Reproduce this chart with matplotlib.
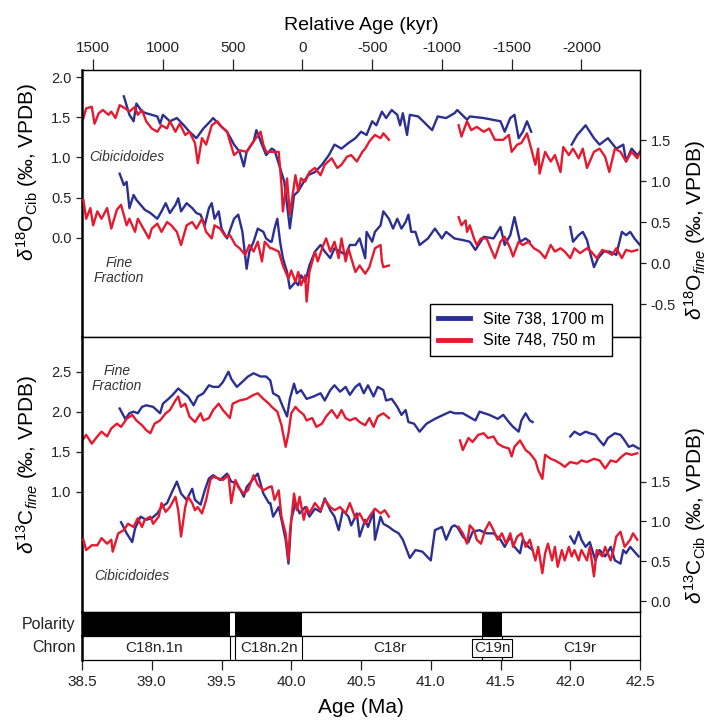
import numpy as np
import matplotlib
matplotlib.use("Agg")
import matplotlib.pyplot as plt
from matplotlib.lines import Line2D

plt.rcParams['font.family'] = ['Liberation Sans', 'DejaVu Sans']
plt.rcParams['mathtext.fontset'] = 'custom'
plt.rcParams['mathtext.rm'] = 'Liberation Sans'
plt.rcParams['mathtext.it'] = 'Liberation Sans:italic'
plt.rcParams['axes.unicode_minus'] = False

nan = np.nan
BLUE = '#2b2f93'
RED = '#e6192e'

# ---------------- data (Age, Ma) ----------------
# d18O Cibicidoides (left axis, upper panel)
o_cib_748_age = [38.51,38.53,38.57,38.59,38.62,38.65,38.69,38.71,38.74,38.77,38.81,38.84,38.88,38.90,38.93,38.96,39.00,39.04,39.07,39.11,39.13,39.17,39.20,39.24,39.27,39.31,39.33,39.36,39.39,39.43,39.47,39.50,39.54,39.56,39.59,39.63,39.68,39.73,39.78,39.80,39.82,
                 39.86,39.91,39.93,39.94,39.97,39.99,40.03,40.05,40.07,40.10,40.13,40.17,40.21,40.24,40.29,40.33,40.36,40.40,40.43,40.47,40.51,40.53,40.56,40.60,40.64,40.66,40.70,
                 40.95,
                 41.20,41.22,41.26,41.29,41.33,41.38,41.42,41.46,41.52,41.56,41.58,41.62,41.65,41.69,41.72,41.75,41.77,41.78,41.82,41.86,41.89,41.93,41.95,41.99,42.02,42.06,42.09,42.12,42.17,42.21,42.25,42.28,42.32,42.36,42.40,42.44,42.48,42.50]
o_cib_748_val = [1.49,1.61,1.63,1.42,1.55,1.59,1.53,1.57,1.49,1.65,1.61,1.57,1.63,1.53,1.59,1.45,1.36,1.32,1.40,1.36,1.45,1.32,1.42,1.28,1.32,1.18,0.93,1.24,1.16,1.40,1.45,1.38,1.32,1.20,1.03,1.09,1.07,1.20,1.32,1.16,1.07,
                 1.07,1.07,0.66,0.33,0.74,0.29,0.78,0.58,0.74,0.70,0.82,0.87,0.78,0.91,0.99,0.87,0.91,1.01,1.03,0.95,1.07,1.11,1.20,1.28,1.24,1.30,1.22,
                 nan,
                 1.40,1.26,1.45,1.34,1.38,1.32,1.36,1.22,1.22,1.28,1.07,1.16,1.18,1.30,1.11,0.91,1.11,0.80,1.07,0.95,1.03,0.82,1.13,1.03,1.11,0.99,1.11,0.87,1.07,1.11,1.01,0.82,1.11,1.07,0.95,1.07,0.99,1.07]
o_cib_738_age = [38.80,38.84,38.87,38.89,38.93,38.96,39.04,39.06,39.08,39.13,39.18,39.23,39.27,39.32,39.37,39.42,39.44,39.49,39.54,39.59,39.63,39.66,39.68,39.73,39.75,39.79,39.82,
                 39.86,39.88,39.92,39.95,39.99,40.02,40.05,40.09,40.12,40.17,40.22,40.27,40.31,40.36,40.41,40.46,40.50,40.54,40.58,40.61,40.65,40.68,40.72,40.76,40.78,40.80,40.83,40.85,40.91,41.01,41.05,41.11,41.17,
                 41.19,41.26,41.28,41.38,41.50,41.53,41.57,41.60,41.63,41.66,41.69,41.72,
                 41.86,
                 42.01,42.05,42.11,42.17,42.21,42.27,42.33,42.38,42.40,42.44,42.48,42.50]
o_cib_738_val = [1.76,1.53,1.45,1.67,1.57,1.55,1.51,1.42,1.53,1.45,1.49,1.40,1.32,1.24,1.36,1.45,1.49,1.40,1.32,1.16,1.07,0.89,1.07,1.20,1.34,1.16,1.03,
                 1.11,1.09,0.87,0.70,0.12,0.53,0.58,0.70,0.78,0.82,0.91,1.03,1.16,1.11,1.18,1.24,1.32,1.28,1.45,1.40,1.57,1.49,1.59,1.53,1.40,1.55,1.28,1.53,1.51,1.34,1.51,1.49,1.55,
                 1.59,1.47,1.51,1.49,1.45,1.32,1.49,1.53,1.24,1.32,1.45,1.32,
                 nan,
                 1.16,1.28,1.40,1.24,1.16,1.24,1.11,1.16,0.95,1.11,1.03,1.07]

# d18O fine fraction (right axis, upper panel)
o_fine_748_age = [38.51,38.53,38.56,38.58,38.61,38.64,38.68,38.71,38.75,38.78,38.82,38.84,38.88,38.90,38.94,38.98,39.00,39.04,39.07,39.11,39.14,39.18,39.21,39.25,39.29,39.32,39.36,39.39,39.43,39.45,39.49,39.53,39.56,39.60,39.63,39.67,39.70,39.73,39.76,39.79,39.81,39.85,
                  39.86,39.91,39.94,39.98,40.00,40.03,40.05,40.07,40.10,40.11,40.13,40.17,40.19,40.23,40.25,40.28,40.31,40.34,40.36,40.39,40.41,40.43,40.46,40.49,40.53,40.56,40.60,40.64,40.65,40.66,40.70,
                  40.95,
                  41.20,41.22,41.25,41.26,41.28,41.31,41.33,41.36,41.40,41.44,41.46,41.50,41.53,41.57,41.59,41.63,41.66,41.70,41.74,41.78,41.82,41.86,41.89,41.93,41.96,42.00,42.03,42.07,42.12,42.15,42.19,42.23,42.26,42.30,42.33,42.37,42.40,42.44,42.48]
o_fine_748_val = [0.77,0.54,0.67,0.46,0.63,0.54,0.67,0.42,0.65,0.71,0.46,0.54,0.38,0.54,0.42,0.30,0.42,0.48,0.38,0.50,0.46,0.38,0.22,0.46,0.50,0.42,0.54,0.38,0.30,0.46,0.42,0.32,0.34,0.22,0.18,0.10,0.22,0.14,0.26,0.02,0.26,0.18,
                  0.18,0.14,-0.03,-0.19,-0.09,-0.23,-0.11,-0.27,-0.15,-0.47,-0.11,0.14,0.02,0.22,0.30,0.14,0.26,0.06,0.30,0.02,0.18,0.06,-0.11,-0.03,-0.13,-0.05,0.18,0.22,0.02,-0.05,-0.03,
                  nan,
                  0.56,0.46,0.52,0.38,0.46,0.30,0.22,0.30,0.30,0.14,0.06,0.26,0.32,0.18,0.08,0.26,0.22,0.26,0.18,0.14,0.06,0.22,0.14,0.18,0.14,0.06,0.18,0.12,0.18,0.14,0.06,0.16,0.14,0.10,0.18,0.06,0.16,0.14,0.16]
o_fine_738_age = [38.77,38.80,38.82,38.84,38.87,38.89,38.92,38.95,38.99,39.04,39.07,39.10,39.13,39.17,39.19,39.21,39.25,39.29,39.32,39.35,39.38,39.41,39.43,39.45,39.48,39.50,39.54,39.59,39.62,39.65,39.68,39.70,39.73,39.76,39.80,39.82,39.85,
                  39.86,39.88,39.90,39.92,39.94,39.97,39.99,40.03,40.05,40.07,40.10,40.13,40.17,40.21,40.24,40.28,40.31,40.35,40.39,40.42,40.46,40.49,40.53,40.54,40.58,40.60,40.64,40.66,40.70,40.73,40.76,40.79,40.82,40.84,40.86,40.89,40.92,40.98,41.03,41.08,41.11,41.17,
                  41.23,41.28,41.32,41.38,41.45,41.50,41.53,41.57,41.60,41.64,41.68,41.71,
                  41.86,
                  42.00,42.02,42.06,42.09,42.12,42.14,42.17,42.20,42.24,42.28,42.33,42.37,42.40,42.43,42.46,42.50]
o_fine_738_val = [1.09,0.95,0.99,0.67,0.83,0.77,0.71,0.65,0.61,0.54,0.63,0.73,0.61,0.71,0.79,0.63,0.73,0.67,0.61,0.59,0.46,0.67,0.73,0.54,0.63,0.42,0.30,0.54,0.59,0.38,-0.07,0.14,0.26,0.42,0.38,0.30,0.26,
                  0.26,0.42,0.54,0.26,0.06,-0.11,-0.31,-0.23,-0.27,-0.15,-0.23,-0.03,0.14,0.22,0.14,0.06,0.18,0.14,0.10,0.22,0.22,0.30,0.06,0.38,0.26,0.38,0.46,0.63,0.54,0.42,0.54,0.42,0.50,0.59,0.38,0.38,0.22,0.30,0.42,0.30,0.38,0.30,
                  0.28,0.26,0.16,0.32,0.30,0.44,0.22,0.34,0.56,0.26,0.30,0.26,
                  nan,
                  0.44,0.26,0.34,0.38,0.28,0.14,-0.05,0.06,0.14,0.14,0.10,0.38,0.34,0.38,0.30,0.22]

# d13C fine fraction (left axis, lower panel)
c_fine_748_age = [38.51,38.53,38.57,38.61,38.64,38.68,38.71,38.75,38.78,38.82,38.86,38.89,38.93,38.96,38.99,39.02,39.06,39.10,39.13,39.17,39.19,39.21,39.24,39.27,39.31,39.35,39.37,39.41,39.44,39.48,39.51,39.56,39.58,39.63,39.68,39.73,39.76,39.80,39.84,
                  39.86,39.90,39.93,39.96,39.98,40.00,40.03,40.05,40.09,40.11,40.15,40.18,40.22,40.25,40.29,40.33,40.36,40.39,40.42,40.46,40.49,40.53,40.56,40.59,40.62,40.66,40.70,
                  40.95,
                  41.21,41.23,41.27,41.30,41.34,41.38,41.41,41.45,41.48,41.52,41.56,41.58,41.60,41.64,41.68,41.71,41.75,41.77,41.80,41.82,41.86,41.89,41.93,41.96,42.00,42.05,42.08,42.12,42.17,42.21,42.25,42.29,42.33,42.37,42.40,42.44,42.48]
c_fine_748_val = [1.66,1.71,1.60,1.69,1.75,1.69,1.79,1.85,1.81,1.91,1.96,1.89,1.83,1.77,1.73,1.85,1.89,1.98,2.02,2.14,2.19,2.06,2.10,1.94,1.87,1.98,1.89,1.92,2.02,2.10,2.02,1.92,2.10,2.14,2.16,2.21,2.23,2.16,2.10,
                  2.06,2.00,1.83,1.56,1.73,1.98,2.06,2.02,1.96,1.89,1.92,1.81,1.85,1.94,2.02,1.92,2.02,1.92,1.89,1.92,1.87,1.83,1.92,1.81,1.94,1.98,1.92,
                  nan,
                  1.64,1.52,1.67,1.62,1.71,1.73,1.67,1.69,1.60,1.56,1.54,1.44,1.56,1.64,1.52,1.48,1.39,1.27,1.16,1.46,1.41,1.39,1.35,1.31,1.37,1.35,1.39,1.37,1.41,1.39,1.29,1.39,1.37,1.44,1.48,1.46,1.48]
c_fine_738_age = [38.77,38.81,38.84,38.87,38.90,38.93,38.96,39.01,39.06,39.08,39.12,39.15,39.19,39.23,39.26,39.30,39.33,39.37,39.41,39.44,39.48,39.51,39.55,39.57,39.61,39.66,39.69,39.73,39.78,39.82,
                  39.85,39.87,39.91,39.94,39.97,39.99,40.02,40.04,40.07,40.11,40.16,40.21,40.24,40.28,40.31,40.35,40.39,40.42,40.46,40.49,40.52,40.55,40.59,40.62,40.66,40.68,40.72,40.76,40.79,40.82,40.84,40.88,40.92,40.97,41.03,41.09,41.14,41.17,
                  41.23,41.32,41.35,41.42,41.48,41.52,41.56,41.59,41.63,41.65,41.68,41.71,41.73,
                  41.86,
                  42.00,42.03,42.07,42.11,42.14,42.18,42.21,42.24,42.27,42.32,42.36,42.39,42.42,42.45,42.49]
c_fine_738_val = [2.04,1.91,1.98,2.00,1.98,2.06,2.08,2.06,1.98,2.10,2.16,2.21,2.29,2.23,2.19,2.08,2.19,2.23,2.33,2.31,2.31,2.37,2.50,2.41,2.31,2.39,2.44,2.48,2.44,2.44,
                  2.39,2.23,2.19,2.06,1.94,2.16,2.35,2.23,2.27,2.16,2.19,2.23,2.14,2.27,2.33,2.25,2.31,2.21,2.31,2.35,2.23,2.33,2.19,2.31,2.27,2.14,2.16,2.06,1.96,2.02,1.87,1.85,1.75,1.85,1.91,1.96,2.00,1.98,
                  1.98,1.89,2.00,1.96,1.91,1.96,1.87,1.81,1.75,1.89,1.98,1.89,1.87,
                  nan,
                  1.69,1.75,1.71,1.75,1.73,1.71,1.64,1.58,1.67,1.73,1.71,1.64,1.56,1.58,1.54]

# d13C Cibicidoides (right axis, lower panel)
c_cib_748_age = [38.51,38.53,38.57,38.61,38.64,38.68,38.71,38.72,38.76,38.80,38.83,38.87,38.90,38.93,38.95,38.99,39.01,39.05,39.07,39.10,39.13,39.17,39.19,39.21,39.24,39.26,39.29,39.31,39.33,39.36,39.39,39.42,39.44,39.48,39.51,39.55,39.57,39.60,39.62,39.66,39.69,39.73,39.76,39.80,39.84,
                 39.86,39.88,39.91,39.93,39.96,39.98,39.99,40.02,40.04,40.06,40.09,40.11,40.13,40.17,40.21,40.24,40.28,40.31,40.35,40.39,40.42,40.46,40.49,40.53,40.56,40.60,40.64,40.67,40.70,
                 40.95,
                 41.20,41.23,41.26,41.28,41.31,41.33,41.36,41.39,41.42,41.45,41.48,41.51,41.54,41.57,41.59,41.62,41.65,41.68,41.71,41.75,41.77,41.80,41.82,41.84,41.87,41.89,41.91,41.94,41.96,41.99,42.01,42.03,42.06,42.08,42.12,42.14,42.17,42.19,42.23,42.25,42.29,42.31,42.33,42.36,42.39,42.43,42.45,42.48]
c_cib_748_val = [0.77,0.64,0.70,0.70,0.79,0.72,0.77,0.62,0.85,0.89,0.97,0.93,1.04,0.93,1.02,1.06,0.97,1.06,1.23,1.12,1.18,1.31,1.14,0.81,1.18,1.31,1.23,1.14,1.18,1.10,1.27,1.52,1.56,1.54,1.52,1.58,1.23,1.52,1.43,1.35,1.39,1.58,1.46,1.39,1.43,
                 1.44,1.27,1.39,1.06,0.85,0.51,0.85,1.35,1.14,1.31,1.02,1.18,1.10,1.23,1.14,1.27,1.18,1.14,1.18,1.10,1.23,1.04,1.10,0.97,1.06,1.16,1.10,1.14,1.06,
                 nan,
                 0.93,0.85,0.72,0.95,0.89,0.77,0.72,0.89,0.99,0.89,0.77,0.85,0.72,0.85,0.68,0.81,0.85,0.68,0.77,0.51,0.68,0.35,0.60,0.72,0.51,0.68,0.43,0.64,0.51,0.68,0.56,0.64,0.51,0.64,0.51,0.68,0.31,0.64,0.56,0.68,0.51,0.64,0.81,0.87,0.68,0.77,0.85,0.77]
c_cib_738_age = [38.78,38.82,38.86,38.88,38.92,38.96,39.00,39.04,39.07,39.11,39.14,39.18,39.21,39.25,39.29,39.31,39.35,39.38,39.41,39.44,39.49,39.54,39.57,39.61,39.66,39.68,39.73,39.76,39.80,39.84,
                 39.85,39.87,39.91,39.93,39.96,39.98,40.00,40.03,40.06,40.10,40.13,40.17,40.21,40.24,40.28,40.31,40.34,40.37,40.41,40.43,40.47,40.49,40.53,40.55,40.59,40.60,40.64,40.66,40.70,40.73,40.77,40.80,40.85,40.89,40.94,41.00,41.03,41.08,41.11,41.15,41.17,
                 41.19,41.23,41.27,41.30,41.35,41.40,41.45,41.50,41.53,41.57,41.60,41.64,41.66,41.70,41.73,
                 41.86,
                 42.00,42.03,42.06,42.08,42.11,42.14,42.18,42.21,42.25,42.29,42.32,42.36,42.38,42.40,42.43,42.46,42.49]
c_cib_738_val = [0.99,0.85,0.74,0.91,1.06,1.02,1.04,1.10,1.18,1.23,1.35,1.50,1.35,1.27,1.41,1.27,1.21,1.39,1.54,1.58,1.52,1.60,1.50,1.48,1.31,1.43,1.54,1.60,1.35,1.23,
                 1.23,1.06,1.18,1.02,0.77,0.47,1.02,1.23,1.10,1.18,1.06,1.16,1.12,1.29,1.14,1.06,0.89,1.14,1.06,0.95,1.10,0.81,1.02,0.93,1.12,0.77,1.06,0.97,0.93,0.89,0.85,0.77,0.54,0.64,0.62,0.51,0.89,0.93,0.77,0.93,0.95,
                 0.93,0.81,0.74,0.87,0.89,0.85,0.85,0.77,0.68,0.81,0.68,0.60,0.77,0.68,0.64,
                 nan,
                 0.81,0.72,0.87,0.77,0.68,0.74,0.51,0.64,0.56,0.68,0.51,0.47,0.64,0.60,0.68,0.62,0.56]

# magnetostratigraphy
normal_start = [38.5, 39.60, 41.365]
normal_end = [39.558, 40.08, 41.514]
chron_bounds = [39.558, 39.60, 40.08, 41.365, 41.514]
chron_names = ['C18n.1n', 'C18n.2n', 'C18r', 'C19n', 'C19r']
chron_mid = [39.02, 39.84, 40.71, 41.44, 42.07]

rel_zero = 40.08
rel_ticks = [1500, 1000, 500, 0, -500, -1000, -1500, -2000]
age_ticks = [38.5, 39.0, 39.5, 40.0, 40.5, 41.0, 41.5, 42.0, 42.5]

# ---------------- figure ----------------
W, H = 708, 722
fig = plt.figure(figsize=(W/100, H/100), dpi=100)

def rect(x0, y0, x1, y1):
    return [x0/W, 1 - y1/H, (x1 - x0)/W, (y1 - y0)/H]

L, R = 82, 640
ax_o = fig.add_axes(rect(L, 70, R, 337))
ax_c = fig.add_axes(rect(L, 337, R, 612))
ax_p = fig.add_axes(rect(L, 612, R, 636))
ax_ch = fig.add_axes(rect(L, 636, R, 660))

TK = dict(labelsize=10.5, direction='out', length=4, width=0.9, colors='#222222', labelcolor='#222222')
LW = 1.7

for a in (ax_o, ax_c, ax_p, ax_ch):
    a.set_xlim(38.5, 42.5)
    for s in a.spines.values():
        s.set_linewidth(0.9)
    a.spines['left'].set_linewidth(1.8)

# upper panel
ax_o2 = ax_o.twinx()
ax_o.plot(o_cib_738_age, o_cib_738_val, color=BLUE, lw=LW)
ax_o.plot(o_cib_748_age, o_cib_748_val, color=RED, lw=LW)
ax_o2.plot(o_fine_738_age, o_fine_738_val, color=BLUE, lw=LW)
ax_o2.plot(o_fine_748_age, o_fine_748_val, color=RED, lw=LW)
ax_o.set_ylim(-1.23, 2.087)
ax_o2.set_ylim(-0.902, 2.354)
ax_o.set_yticks([0.0, 0.5, 1.0, 1.5, 2.0])
ax_o2.set_yticks([-0.5, 0.0, 0.5, 1.0, 1.5])
ax_o.yaxis.set_major_formatter(matplotlib.ticker.FormatStrFormatter('%.1f'))
ax_o2.yaxis.set_major_formatter(matplotlib.ticker.FormatStrFormatter('%.1f'))
ax_o.tick_params(axis='y', **TK)
ax_o2.tick_params(axis='y', **TK)
ax_o.tick_params(axis='x', bottom=False, labelbottom=False)
ax_o2.spines['left'].set_visible(False)
ax_o2.spines['right'].set_linewidth(0.9)

# lower panel
ax_c2 = ax_c.twinx()
ax_c.plot(c_fine_738_age, c_fine_738_val, color=BLUE, lw=LW)
ax_c.plot(c_fine_748_age, c_fine_748_val, color=RED, lw=LW)
ax_c2.plot(c_cib_738_age, c_cib_738_val, color=BLUE, lw=LW)
ax_c2.plot(c_cib_748_age, c_cib_748_val, color=RED, lw=LW)
ax_c.set_ylim(-0.506, 2.934)
ax_c2.set_ylim(-0.138, 3.316)
ax_c.set_yticks([1.0, 1.5, 2.0, 2.5])
ax_c2.set_yticks([0.0, 0.5, 1.0, 1.5])
ax_c.yaxis.set_major_formatter(matplotlib.ticker.FormatStrFormatter('%.1f'))
ax_c2.yaxis.set_major_formatter(matplotlib.ticker.FormatStrFormatter('%.1f'))
ax_c.tick_params(axis='y', **TK)
ax_c2.tick_params(axis='y', **TK)
ax_c.tick_params(axis='x', bottom=False, labelbottom=False)
ax_c2.spines['left'].set_visible(False)
ax_c2.spines['right'].set_linewidth(0.9)

# y labels
LBL = 15
ax_o.set_ylabel(r'$\delta^{18}\mathrm{O}_{\mathrm{Cib}}$ (‰, VPDB)', fontsize=LBL)
ax_o.yaxis.set_label_coords(-0.075, 0.62)
ax_o2.set_ylabel(r'$\delta^{18}\mathrm{O}_{\mathit{fine}}$ (‰, VPDB)', fontsize=LBL)
ax_o2.yaxis.set_label_coords(1.076, 0.40)
ax_c.set_ylabel(r'$\delta^{13}\mathrm{C}_{\mathit{fine}}$ (‰, VPDB)', fontsize=LBL)
ax_c.yaxis.set_label_coords(-0.075, 0.535)
ax_c2.set_ylabel(r'$\delta^{13}\mathrm{C}_{\mathrm{Cib}}$ (‰, VPDB)', fontsize=LBL)
ax_c2.yaxis.set_label_coords(1.076, 0.35)

# in-panel labels
TXT = dict(fontsize=10, style='italic', color='#333333', ha='center', va='center')
ax_o.text(0.081, 0.674, 'Cibicidoides', transform=ax_o.transAxes, **TXT)
ax_o.text(0.066, 0.25, 'Fine\nFraction', transform=ax_o.transAxes, linespacing=1.1, **TXT)
ax_c.text(0.063, 0.85, 'Fine\nFraction', transform=ax_c.transAxes, linespacing=1.1, **TXT)
ax_c.text(0.09, 0.131, 'Cibicidoides', transform=ax_c.transAxes, **TXT)

# top relative age axis
sec = ax_o.secondary_xaxis('top', functions=(lambda a: (rel_zero - a) * 1000,
                                             lambda r: rel_zero - r / 1000))
sec.set_xticks(rel_ticks)
sec.set_xticklabels([str(t) for t in rel_ticks])
sec.tick_params(axis='x', labelsize=11, direction='out', length=8, width=0.9, colors='#222222', pad=3)
sec.set_xlabel('Relative Age (kyr)', fontsize=14, labelpad=8)

# polarity
for s, e in zip(normal_start, normal_end):
    ax_p.axvspan(s, e, color='black', lw=0)
ax_p.set_yticks([])
ax_p.set_xticks([])
ax_p.text(-0.012, 0.5, 'Polarity', transform=ax_p.transAxes, ha='right', va='center', fontsize=11.5, color='#222222')

# chron
for b in chron_bounds:
    ax_ch.axvline(b, color='black', lw=0.8)
for nm, m in zip(chron_names, chron_mid):
    if nm == 'C19n':
        ax_ch.text(m, 0.5, nm, transform=ax_ch.get_xaxis_transform(), ha='center', va='center', fontsize=11,
                   color='#222222', bbox=dict(boxstyle='square,pad=0.12', fc='white', ec='black', lw=0.8))
    else:
        ax_ch.text(m, 0.5, nm, transform=ax_ch.get_xaxis_transform(), ha='center', va='center', fontsize=11, color='#222222')
ax_ch.set_yticks([])
ax_ch.set_xticks(age_ticks)
ax_ch.xaxis.set_major_formatter(matplotlib.ticker.FormatStrFormatter('%.1f'))
ax_ch.tick_params(axis='x', labelsize=11, direction='out', length=7, width=0.9, colors='#222222', pad=4)
ax_ch.set_xlabel('Age (Ma)', fontsize=15, labelpad=6)
ax_ch.text(-0.012, 0.5, 'Chron', transform=ax_ch.transAxes, ha='right', va='center', fontsize=11.5, color='#222222')

# legend
handles = [Line2D([], [], color=BLUE, lw=3.5), Line2D([], [], color=RED, lw=3.5)]
fig.legend(handles, ['Site 738, 1700 m', 'Site 748, 750 m'], loc='center',
           bbox_to_anchor=(521/W, 1 - 330/H), fontsize=11.5, frameon=True, fancybox=False,
           edgecolor='black', framealpha=1, handlelength=2.0, borderpad=0.5, labelspacing=0.4)
fig.legends[0].get_frame().set_linewidth(1.0)

fig.savefig('out.png', dpi=100)
